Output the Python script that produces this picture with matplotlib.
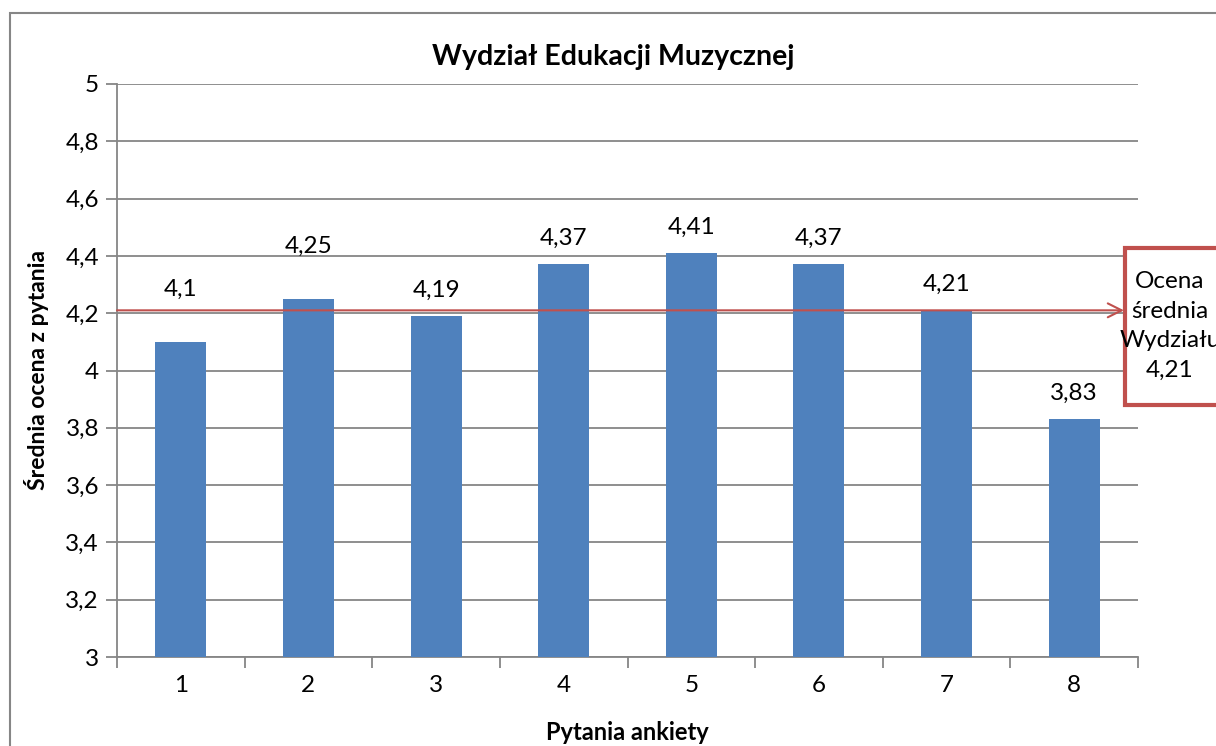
import matplotlib.pyplot as plt
from matplotlib.patches import Rectangle

# Data
pytania = ["1", "2", "3", "4", "5", "6", "7", "8"]
oceny = [4.1, 4.25, 4.19, 4.37, 4.41, 4.37, 4.21, 3.83]
srednia = 4.21
y_ticks = [3, 3.2, 3.4, 3.6, 3.8, 4, 4.2, 4.4, 4.6, 4.8, 5]

plt.rcParams["font.family"] = ["Lato", "DejaVu Sans"]


def pl(v):
    return f"{v:g}".replace(".", ",")


W, H = 1216, 746
fig = plt.figure(figsize=(W / 100, H / 100), dpi=100)
ax = fig.add_axes([117 / W, 1 - 657 / H, (1138 - 117) / W, (657 - 84) / H])

grey = "#868686"
blue = "#4F81BD"
red = "#C0504D"

x = list(range(1, len(pytania) + 1))
ax.bar(x, oceny, width=0.4, color=blue, zorder=3)

ax.set_xlim(0.5, 8.5)
ax.set_ylim(3, 5)
ax.set_yticks(y_ticks)
ax.set_yticklabels([pl(v) for v in y_ticks], fontsize=17.5)
ax.yaxis.grid(True, color=grey, lw=1.3, zorder=0)

# ticks between categories, labels at centres
ax.set_xticks([i + 0.5 for i in range(0, len(pytania) + 1)])
ax.set_xticklabels([])
ax.set_xticks(x, minor=True)
ax.set_xticklabels(pytania, minor=True, fontsize=17.5)
ax.tick_params(axis="x", which="minor", length=0, pad=13)
ax.tick_params(axis="x", which="major", length=8, width=1.3, color=grey)
ax.tick_params(axis="y", length=8, width=1.3, color=grey, pad=5)

for s in ["top", "right"]:
    ax.spines[s].set_visible(False)
for s in ["left", "bottom"]:
    ax.spines[s].set_color(grey)
    ax.spines[s].set_linewidth(1.3)

# value labels; first two were pushed up above the red line in the original
lifted = [0, 1]
for i, (xi, v) in enumerate(zip(x, oceny)):
    off = 30 if i in lifted else 11
    ax.annotate(pl(v), (xi, v), xytext=(0, off),
                textcoords="offset points", ha="center", va="bottom", fontsize=17.5)

fig.text(613 / W, 1 - 57 / H, "Wydział Edukacji Muzycznej", ha="center", va="center",
         fontsize=20.5, fontweight="bold")
ax.set_xlabel("Pytania ankiety", fontsize=17, fontweight="bold", labelpad=18)
ax.set_ylabel("Średnia ocena z pytania", fontsize=16.5, fontweight="bold", labelpad=12)

# average line with arrow to the box
ax.annotate("", xy=(1124 / W, srednia), xycoords=("figure fraction", "data"),
            xytext=(0.5, srednia), textcoords="data",
            arrowprops=dict(arrowstyle="->", color=red, lw=1.5,
                            mutation_scale=25, shrinkA=0, shrinkB=0),
            annotation_clip=False, zorder=5)

# box
box = Rectangle((1125 / W, 1 - 405 / H), 0.2, (405 - 248) / H,
                transform=fig.transFigure, facecolor="white",
                edgecolor=red, lw=3, zorder=10)
fig.add_artist(box)
fig.text(1170 / W, 1 - 326 / H, "Ocena\nśrednia\nWydziału\n" + pl(srednia),
         ha="center", va="center", fontsize=17.5, linespacing=1.5, zorder=11)

# outer chart border
border = Rectangle((10 / W, -0.1), 1.2, 1 - 13 / H + 0.1, transform=fig.transFigure,
                   facecolor="none", edgecolor=grey, lw=1.5)
fig.add_artist(border)

fig.savefig("out.png", dpi=100)
